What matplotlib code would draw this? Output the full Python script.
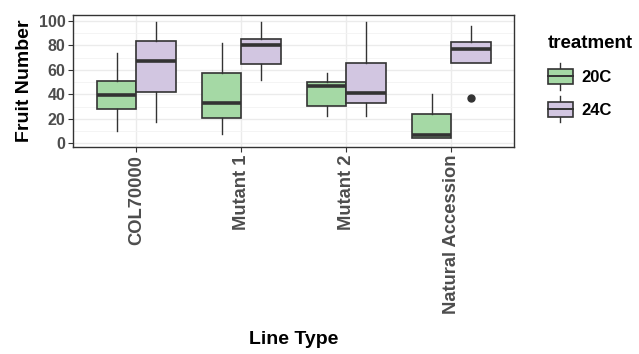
import matplotlib
matplotlib.use("Agg")
import matplotlib.pyplot as plt
from matplotlib.legend_handler import HandlerBase
from matplotlib.patches import Patch, Rectangle
from matplotlib.lines import Line2D

# data (box summary per line type and treatment)
line_types = ["COL70000", "Mutant 1", "Mutant 2", "Natural Accession"]
treatments = ["20C", "24C"]

whislo_20 = [10.0, 7.6, 22.0, 4.6]
q1_20 = [28.3, 20.4, 30.5, 4.6]
med_20 = [39.7, 32.6, 47.0, 7.1]
q3_20 = [51.1, 57.4, 50.0, 23.7]
whishi_20 = [73.4, 81.6, 57.6, 40.5]
fliers_20 = [[], [], [], []]

whislo_24 = [17.1, 51.7, 22.0, 65.5]
q1_24 = [41.6, 64.4, 33.2, 65.5]
med_24 = [67.2, 80.2, 41.1, 76.9]
q3_24 = [83.2, 84.8, 65.8, 82.4]
whishi_24 = [99.2, 99.2, 99.2, 95.7]
fliers_24 = [[], [], [], [36.7]]

colors = {"20C": "#A5D9A5", "24C": "#D2C6E1"}
edge = "#333333"


def make_stats(lo, q1, med, q3, hi, fl):
    return [dict(whislo=a, q1=b, med=c, q3=d, whishi=e, fliers=f)
            for a, b, c, d, e, f in zip(lo, q1, med, q3, hi, fl)]


class BoxKey(HandlerBase):
    def create_artists(self, legend, orig, xd, yd, w, h, fs, trans):
        x0, y0 = -xd, -yd
        cx = x0 + w / 2
        arts = [
            Line2D([cx, cx], [y0 - 0.4 * h, y0 + 1.4 * h], color=edge, lw=1.0),
            Rectangle((x0, y0), w, h, facecolor=orig.get_facecolor(),
                      edgecolor=edge, lw=1.2),
            Line2D([x0, x0 + w], [y0 + h / 2, y0 + h / 2], color=edge, lw=1.4),
        ]
        for a in arts:
            a.set_transform(trans)
        return arts


plt.rcParams["font.family"] = ["Liberation Sans", "DejaVu Sans"]
plt.rcParams["font.weight"] = "bold"

fig = plt.figure(figsize=(6.39, 3.54), dpi=100)
ax = fig.add_axes([0.1147, 0.5839, 0.6901, 0.3737])

pos = list(range(1, len(line_types) + 1))
groups = [
    ("20C", make_stats(whislo_20, q1_20, med_20, q3_20, whishi_20, fliers_20), -0.1875),
    ("24C", make_stats(whislo_24, q1_24, med_24, q3_24, whishi_24, fliers_24), 0.1875),
]
for name, stats, off in groups:
    ax.bxp(stats, positions=[p + off for p in pos], widths=0.375,
           patch_artist=True, showcaps=False,
           boxprops=dict(facecolor=colors[name], edgecolor=edge, lw=1.2),
           whiskerprops=dict(color=edge, lw=1.0),
           medianprops=dict(color=edge, lw=2.6, solid_capstyle="butt"),
           flierprops=dict(marker="o", markerfacecolor=edge, markeredgecolor=edge,
                           markersize=5),
           zorder=3)

ax.set_xlim(0.4, 4.6)
ax.set_ylim(-3.3, 104.7)
ax.set_xticks(pos)
ax.set_xticklabels(line_types, rotation=90, fontsize=13.2, color="#4D4D4D",
                   fontweight="bold")
ax.set_yticks([0, 20, 40, 60, 80, 100])
ax.set_yticks([10, 30, 50, 70, 90], minor=True)
for lab in ax.get_yticklabels():
    lab.set_fontsize(11.5)
    lab.set_color("#4D4D4D")
    lab.set_fontweight("bold")
ax.tick_params(axis="both", which="major", length=3.5, width=0.8, color="#333333", pad=2)
ax.tick_params(axis="y", which="minor", length=0)
ax.grid(True, which="major", color="#EBEBEB", lw=1.0, zorder=0)
ax.grid(True, which="minor", axis="y", color="#F3F3F3", lw=0.6, zorder=0)
ax.set_axisbelow(True)
for sp in ax.spines.values():
    sp.set_color("#333333")
    sp.set_linewidth(1.0)

ax.set_ylabel("Fruit Number", fontsize=14, fontweight="bold", labelpad=4)
fig.text(0.4597, 0.018, "Line Type", fontsize=14, fontweight="bold",
         ha="center", va="bottom")

handles = [Patch(facecolor=colors[t], label=t) for t in treatments]
leg = fig.legend(handles=handles, labels=treatments, handler_map={Patch: BoxKey()},
                 loc="upper left", bbox_to_anchor=(0.849, 0.915), frameon=False,
                 title="treatment", fontsize=12, title_fontsize=13.5,
                 handlelength=1.55, handleheight=1.0, handletextpad=0.5,
                 labelspacing=1.0, alignment="left", borderaxespad=0,
                 borderpad=0.3)
leg.get_title().set_fontweight("bold")
for t in leg.get_texts():
    t.set_fontweight("bold")

fig.savefig("out.png", dpi=100)
